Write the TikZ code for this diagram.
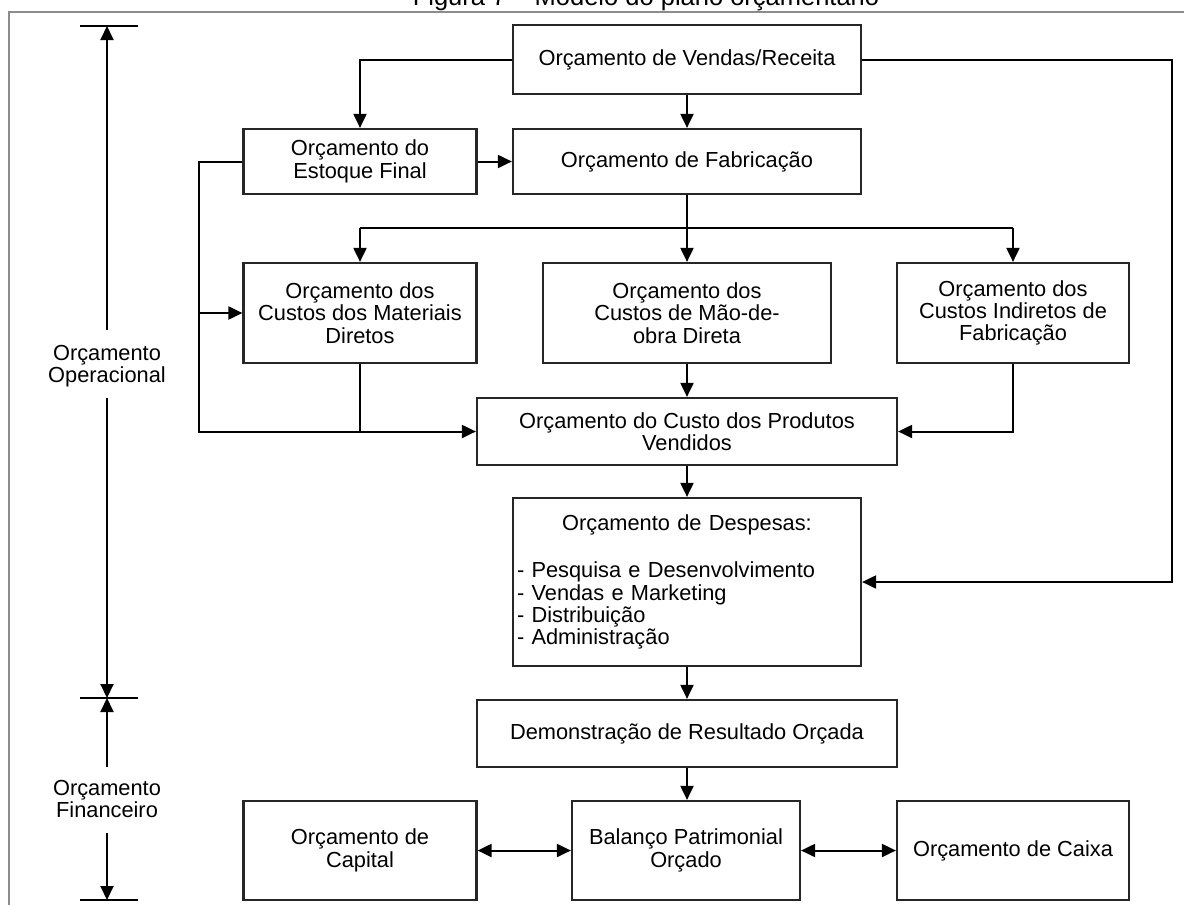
\documentclass[tikz,border=0pt]{standalone}
\usepackage{fontspec}
\setmainfont{Liberation Sans}
\usetikzlibrary{arrows.meta}
\begin{document}
\begin{tikzpicture}[x=1pt,y=-1pt,
  box/.style={draw=black!85, line width=2.2pt, align=center, inner sep=0pt,
    font=\fontsize{21.8pt}{22.3pt}\selectfont},
  conn/.style={line width=2pt, draw=black},
  arr/.style={conn, -{Triangle[length=14pt,width=13pt]}},
  darr/.style={conn, {Triangle[length=14pt,width=13pt]}-{Triangle[length=14pt,width=13pt]}},
  lbl/.style={align=center, inner sep=0pt, font=\fontsize{21.8pt}{22.3pt}\selectfont},
  tick/.style={line width=2pt, draw=black}
]
\useasboundingbox (0,0) rectangle (1184,905);
\clip (0,0) rectangle (1184,905);
\fill[white] (0,0) rectangle (1184,905);

% caption and frame
\node[anchor=base, inner sep=0pt, font=\fontsize{25.5pt}{26pt}\selectfont] (title) at (646,5)
  {Figura 7 – Modelo do plano orçamentário};
\draw[line width=2pt, draw=black!45] (9,920) -- (9,12) -- (1200,12);

% budget blocks
\node[box, minimum width=348pt, minimum height=69pt] (vendas) at (687,59.5) {Orçamento de Vendas/Receita};
\node[box, minimum width=233pt, minimum height=65pt] (estoque) at (360,161.5) {Orçamento do\\Estoque Final};
\node[box, minimum width=348pt, minimum height=65pt] (fab) at (687,161.5) {Orçamento de Fabricação};
\node[box, minimum width=233pt, minimum height=100pt] (mat) at (360,313) {Orçamento dos\\Custos dos Materiais\\Diretos};
\node[box, minimum width=288pt, minimum height=100pt] (mao) at (687,313) {Orçamento dos\\Custos de Mão-de-\\obra Direta};
\node[box, minimum width=232pt, minimum height=100pt] (ind) at (1013,313) {Orçamento dos\\Custos Indiretos de\\Fabricação};
\node[box, minimum width=420pt, minimum height=67pt] (cpv) at (687,431.5) {Orçamento do Custo dos Produtos\\Vendidos};
\node[box, minimum width=348pt, minimum height=168pt, text width=340pt, align=left] (desp) at (687,582)
  {\makebox[\linewidth][c]{Orçamento de Despesas:}\\[25pt]- Pesquisa e Desenvolvimento\\- Vendas e Marketing\\- Distribuição\\- Administração};
\node[box, minimum width=420pt, minimum height=67pt] (dem) at (687,733.5) {Demonstração de Resultado Orçada};
\node[box, minimum width=233pt, minimum height=99pt] (cap) at (360,850.5) {Orçamento de\\Capital};
\node[box, minimum width=228pt, minimum height=99pt] (bal) at (686,850.5) {Balanço Patrimonial\\Orçado};
\node[box, minimum width=232pt, minimum height=99pt] (caixa) at (1013,850.5) {Orçamento de Caixa};

% routing columns
\coordinate (rx) at (1172,0);
\coordinate (lx) at (199,0);
\coordinate (bar) at (687,228);

% connectors
\draw[arr] (vendas.west) -| (estoque.north);
\draw[arr] (vendas.south) -- (fab.north);
\draw[arr] (vendas.east) -- (vendas.east -| rx) -- (desp.east -| rx) -- (desp.east);
\draw[arr] (estoque.east) -- (fab.west);
\draw[conn] (mat.north |- bar) -- (ind.north |- bar);
\draw[arr] (fab.south) -- (mao.north -| fab.south);
\draw[arr] (mat.north |- bar) -- (mat.north);
\draw[arr] (ind.north |- bar) -- (ind.north);
\draw[arr] (estoque.west) -- (estoque.west -| lx) -- (cpv.west -| lx) -- (cpv.west);
\draw[arr] (mat.west -| lx) -- (mat.west);
\draw[conn] (mat.south) -- (mat.south |- cpv.west);
\draw[arr] (mao.south -| cpv.north) -- (cpv.north);
\draw[arr] (ind.south) |- (cpv.east);
\draw[arr] (cpv.south) -- (desp.north);
\draw[arr] (desp.south) -- (dem.north);
\draw[arr] (dem.south) -- (bal.north -| dem.south);
\draw[darr] (cap.east) -- (bal.west);
\draw[darr] (bal.east) -- (caixa.west);

% span markers on the left
\coordinate (t1) at (107,26);
\coordinate (t2) at (107,698);
\coordinate (t3) at (107,900);
\coordinate (o1) at (107,330);
\coordinate (o2) at (107,398);
\coordinate (f1) at (107,767);
\coordinate (f2) at (107,833);
\draw[tick] ([xshift=-27pt]t1) -- ([xshift=31pt]t1);
\draw[tick] ([xshift=-27pt]t2) -- ([xshift=31pt]t2);
\draw[tick] ([xshift=-27pt]t3) -- ([xshift=31pt]t3);
\node[lbl] (opl) at (107,366) {Orçamento\\Operacional};
\node[lbl] (fin) at (107,799) {Orçamento\\Financeiro};
\draw[arr] (o1) -- (t1);
\draw[arr] (o2) -- (t2);
\draw[arr] (f1) -- (t2);
\draw[arr] (f2) -- (t3);
\end{tikzpicture}
\end{document}
